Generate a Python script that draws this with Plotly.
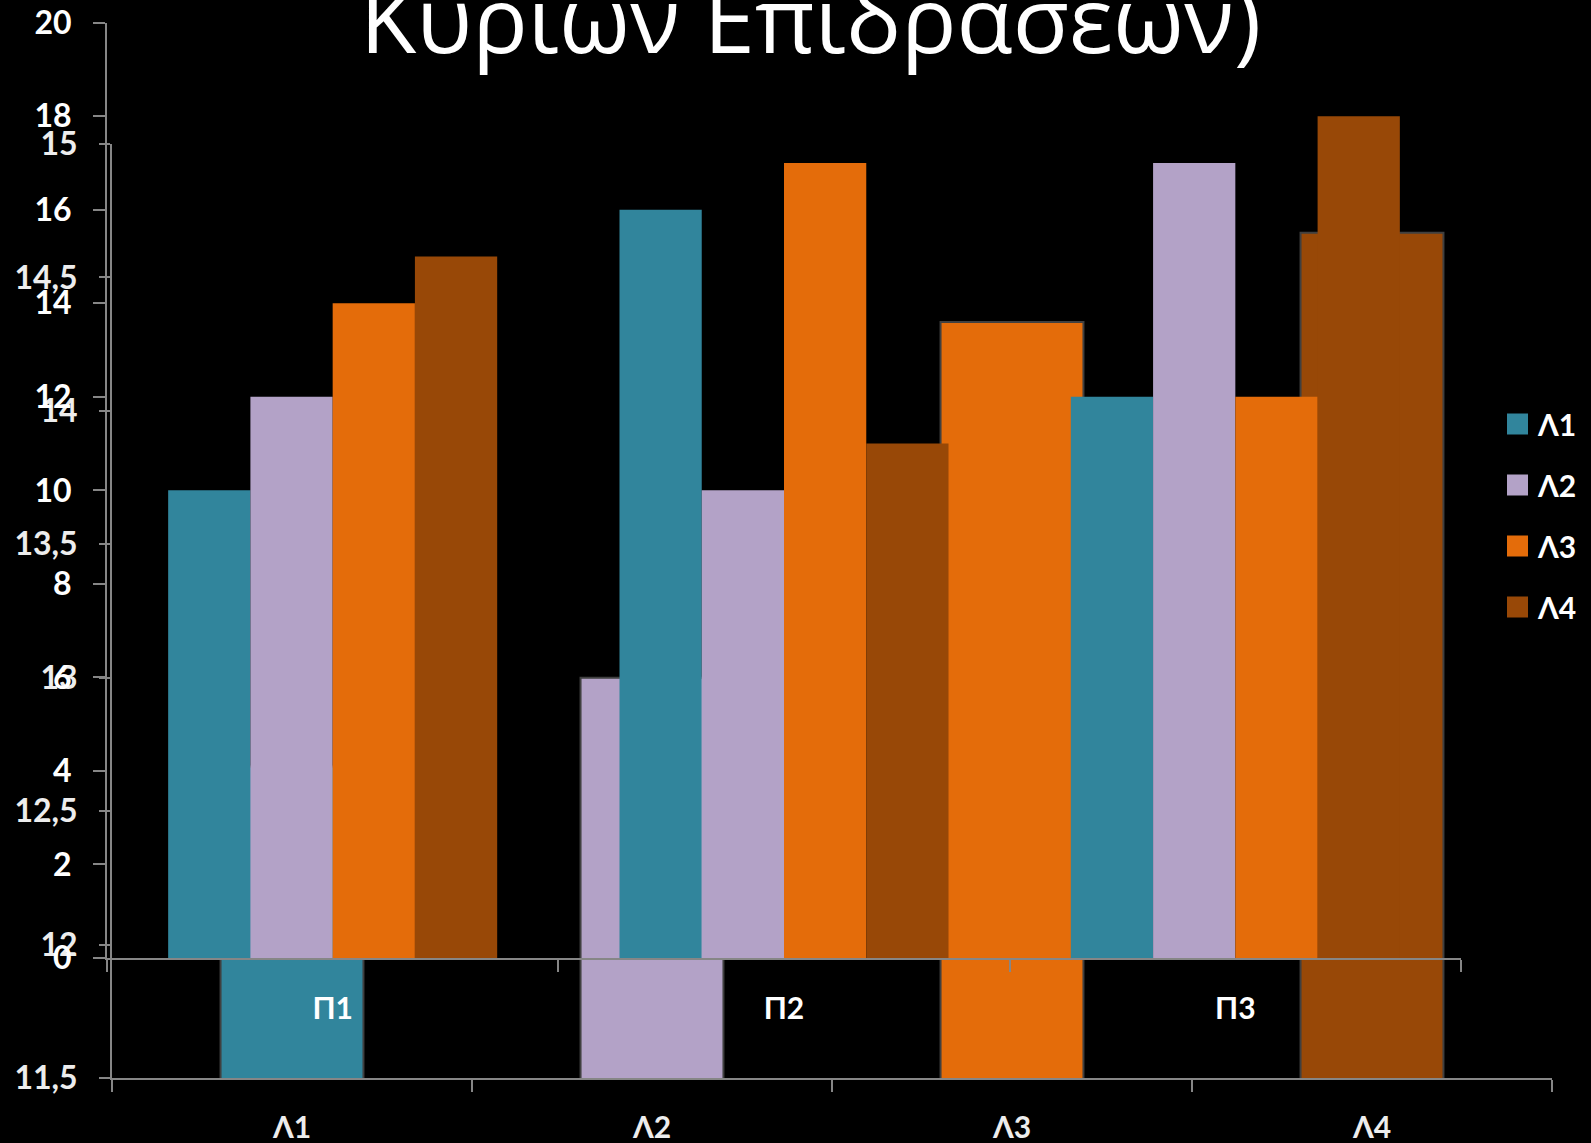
import plotly.graph_objects as go

W, H = 1591, 1143

# ---------------- data ----------------
series_names = ["Λ1", "Λ2", "Λ3", "Λ4"]
series_colors = ["#31859C", "#B3A2C7", "#E46C0A", "#984807"]

groups = ["Π1", "Π2", "Π3"]
lambda1_vals = [10, 16, 12]
lambda2_vals = [12, 10, 17]
lambda3_vals = [14, 17, 12]
lambda4_vals = [15, 11, 18]
front_values = [lambda1_vals, lambda2_vals, lambda3_vals, lambda4_vals]

back_categories = ["Λ1", "Λ2", "Λ3", "Λ4"]
back_means = [12.667, 13.0, 14.333, 14.667]

front_ticks = [0, 2, 4, 6, 8, 10, 12, 14, 16, 18, 20]
back_tickvals = [11.5, 12, 12.5, 13, 13.5, 14, 14.5, 15]
back_ticktext = ["11,5", "12", "12,5", "13", "13,5", "14", "14,5", "15"]

title_text = "Κύριων Επιδράσεων)"

# ---------------- helpers ----------------
def px_x(p):
    return p / W

def px_y(p):
    return (H - p) / H

FONT = "Lato, 'Open Sans', sans-serif"
AXCOL = "#868686"

fig = go.Figure()

# back chart (main effects of Λ)
fig.add_trace(go.Bar(
    x=back_categories, y=back_means,
    marker=dict(color=series_colors, line=dict(color="#404040", width=2)),
    width=0.397, showlegend=False, xaxis="x", yaxis="y",
    hoverinfo="x+y",
))

# front chart (grouped)
for name, color, vals in zip(series_names, series_colors, front_values):
    fig.add_trace(go.Bar(
        x=groups, y=vals, name=name,
        marker=dict(color=color, line=dict(width=0)),
        showlegend=False, xaxis="x2", yaxis="y2",
    ))

ytickfont = dict(family=FONT, size=32, color="#FFFFFF", weight=700)
backytickfont = dict(family=FONT, size=32, color="#EDEDED", weight=700)
xtickfont = dict(family=FONT, size=30, color="#FFFFFF", weight=700)
backxtickfont = dict(family=FONT, size=30, color="#EDEDED", weight=700)

common = dict(showline=True, linecolor=AXCOL, linewidth=2, ticks="outside",
              tickcolor=AXCOL, tickwidth=2, showgrid=False, zeroline=False,
              automargin=False, fixedrange=True)

fig.update_layout(
    width=W, height=H,
    margin=dict(l=0, r=0, t=0, b=0, autoexpand=False),
    paper_bgcolor="#000000", plot_bgcolor="rgba(0,0,0,0)",
    barmode="group", bargap=0.271, bargroupgap=0,
    showlegend=False,
    xaxis=dict(
        domain=[px_x(112), px_x(1552)], anchor="y",
        tickson="boundaries", ticklen=12,
        tickfont=backxtickfont, ticklabelstandoff=22, **common,
    ),
    yaxis=dict(
        domain=[px_y(1078), px_y(144)], anchor="x",
        range=[11.5, 15], tickvals=back_tickvals, ticktext=back_ticktext,
        ticklen=11, tickfont=backytickfont, ticklabelstandoff=15, **common,
    ),
    xaxis2=dict(
        domain=[px_x(107), px_x(1461)], anchor="y2",
        tickson="boundaries", ticklen=12,
        tickfont=xtickfont, ticklabelstandoff=23, **common,
    ),
    yaxis2=dict(
        domain=[px_y(958), px_y(22.7)], anchor="x2",
        range=[0, 20], tickvals=front_ticks,
        ticklen=12, tickfont=ytickfont, ticklabelstandoff=15, **common,
    ),
)

# title (upper part cut off by the page edge, as in the reference)
fig.add_annotation(
    text=title_text, xref="paper", yref="paper",
    x=px_x(811), y=px_y(18), xanchor="center", yanchor="middle",
    showarrow=False,
    font=dict(family="'Open Sans', sans-serif", size=92, color="#FFFFFF"),
)

# legend drawn manually (larger square keys)
legend_centers = [424, 485, 546, 607]
for name, color, cy in zip(series_names, series_colors, legend_centers):
    fig.add_shape(
        type="rect", xref="paper", yref="paper",
        x0=px_x(1507), x1=px_x(1528), y0=px_y(cy + 10.5), y1=px_y(cy - 10.5),
        fillcolor=color, line=dict(width=0),
    )
    fig.add_annotation(
        text=name, xref="paper", yref="paper",
        x=px_x(1535), y=px_y(cy), xanchor="left", yanchor="middle",
        showarrow=False, font=dict(family=FONT, size=30, color="#FFFFFF", weight=700),
    )

fig.write_html(
    "out.html",
    config={"displayModeBar": False},
    post_script="document.body.style.margin='0';document.body.style.background='#000';",
)
